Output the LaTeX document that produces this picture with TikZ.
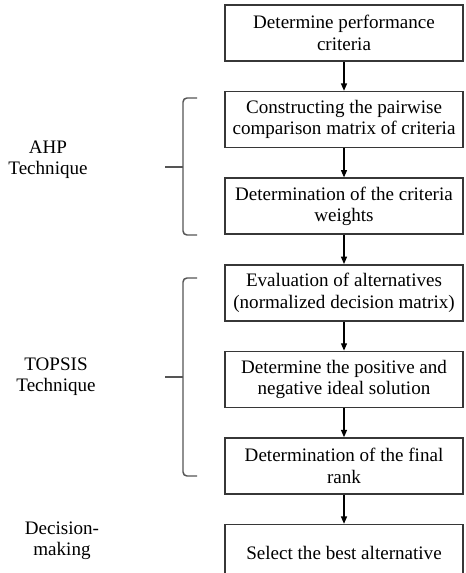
\documentclass[tikz,border=0pt]{standalone}
\usepackage{fontspec}
\setmainfont{Liberation Serif}
\usetikzlibrary{arrows.meta,positioning}
\definecolor{boxline}{RGB}{55,55,55}
\definecolor{braceline}{RGB}{85,85,85}

\begin{document}
\begin{tikzpicture}[x=0.75pt,y=-0.75pt,>={Triangle[width=4.5pt,length=5.5pt]},
  stepbox/.style={draw=boxline,line width=1.2pt,minimum width=178.5pt,
    minimum height=42pt,align=center,inner sep=2pt,
    font=\fontsize{14.3}{16}\selectfont},
  flow/.style={->,line width=0.9pt,black},
  brace/.style={draw=braceline,line width=1.1pt,rounded corners=3pt},
  phase/.style={align=center,font=\fontsize{14.3}{16}\selectfont}]
  \useasboundingbox (0,0) rectangle (465,573);

  % steps
  \node[stepbox] (s1) at (344,33) {Determine performance\\criteria};
  \node[stepbox,below=21.75pt of s1] (s2) {Constructing the pairwise\\comparison matrix of criteria};
  \node[stepbox,below=21.75pt of s2] (s3) {Determination of the criteria\\weights};
  \node[stepbox,below=21.75pt of s3] (s4) {Evaluation of alternatives\\(normalized decision matrix)};
  \node[stepbox,below=21.75pt of s4] (s5) {Determine the positive and\\negative ideal solution};
  \node[stepbox,below=21.75pt of s5] (s6) {Determination of the final\\rank};
  \node[stepbox,below=21.75pt of s6] (s7) {Select the best alternative};

  % arrows
  \foreach \a/\b in {s1/s2,s2/s3,s3/s4,s4/s5,s5/s6,s6/s7}
    \draw[flow] (\a.south) -- (\b.north);

  % --- AHP ---
  \draw[brace] (197,98) -- (183,98) -- (183,235) -- (197,235);
  \draw[draw=braceline,line width=1.1pt] (165,167) -- (183,167);
  \node[phase] (ahp) at (48,160) {AHP\\Technique};

  % --- TOPSIS ---
  \draw[brace] (197,278) -- (183,278) -- (183,476) -- (197,476);
  \draw[draw=braceline,line width=1.1pt] (165,377) -- (183,377);
  \node[phase] (topsis) at (56,377) {TOPSIS\\Technique};

  % decision
  \node[phase] (dm) at (62,541) {Decision-\\making};
\end{tikzpicture}
\end{document}
